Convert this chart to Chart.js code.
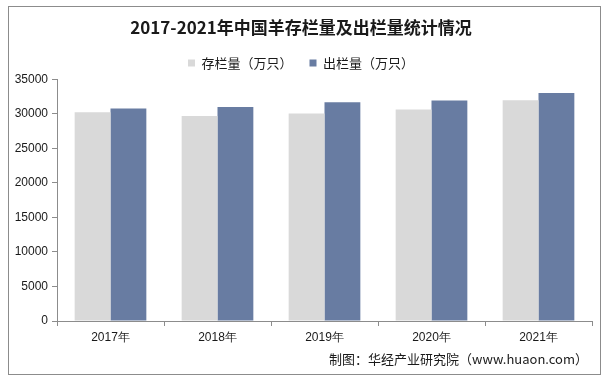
<!DOCTYPE html>
<html>
<head>
<meta charset="utf-8">
<script src="https://cdn.jsdelivr.net/npm/chart.js@4"></script>
<style>
    html, body { margin: 0; padding: 0; background: #fff; }
    #wrap { position: relative; width: 608px; height: 384px; }
    #frame { position: absolute; left: 8px; top: 6px; width: 591px; height: 367px; border: 1px solid #8c8c8c; pointer-events: none; }
    #source { position: absolute; right: 20px; top: 350px; font: 13px/18px "Noto Sans CJK SC", sans-serif; color: #1a1a1a; white-space: nowrap; }
    canvas { position: absolute; left: 0; top: 0; }
</style>
</head>
<body>
<div id="wrap">
    <canvas id="sheepChart" width="608" height="384"></canvas>
    <div id="frame"></div>
    <div id="source">制图：华经产业研究院（www.huaon.com）</div>
</div>
<script>
const years = ['2017年', '2018年', '2019年', '2020年', '2021年'];
const stockValues = [30231.7, 29713.5, 30072.1, 30654.8, 31969.3];
const slaughterValues = [30797.7, 31010.5, 31699.0, 31941.3, 33045.0];
const yTicks = [0, 5000, 10000, 15000, 20000, 25000, 30000, 35000];

const axisColor = '#8c8c8c';
const textColor = '#1a1a1a';

const ctx = document.getElementById('sheepChart').getContext('2d');
const sheepChart = new Chart(ctx, {
    type: 'bar',
    data: {
        labels: years,
        datasets: [{
            label: '存栏量（万只）',
            data: stockValues,
            backgroundColor: '#d9d9d9',
            borderWidth: 0
        }, {
            label: '出栏量（万只）',
            data: slaughterValues,
            backgroundColor: '#687ca2',
            borderWidth: 0
        }]
    },
    options: {
        responsive: false,
        animation: false,
        datasets: {
            bar: {
                categoryPercentage: 0.67,
                barPercentage: 1.0
            }
        },
        layout: {
            padding: { left: 10, right: 16, top: 17, bottom: 34 }
        },
        plugins: {
            tooltip: { enabled: false },
            title: {
                display: true,
                text: '2017-2021年中国羊存栏量及出栏量统计情况',
                color: textColor,
                font: { family: '"Noto Sans CJK SC", sans-serif', size: 17, weight: 'bold' },
                padding: { top: 0, bottom: 2 }
            },
            legend: {
                display: true,
                position: 'top',
                labels: {
                    boxWidth: 7,
                    boxHeight: 7,
                    color: textColor,
                    padding: 17,
                    font: { family: '"Noto Sans CJK SC", sans-serif', size: 13 }
                }
            }
        },
        scales: {
            x: {
                grid: {
                    display: true,
                    drawOnChartArea: false,
                    drawTicks: true,
                    tickLength: 5,
                    color: axisColor
                },
                border: { display: true, color: axisColor },
                ticks: {
                    color: textColor,
                    padding: 4,
                    font: { family: '"Liberation Sans", Arial, sans-serif', size: 12 }
                },
                afterFit: (scale) => { scale.height = 29; }
            },
            y: {
                min: 0,
                max: 35000,
                afterBuildTicks: (scale) => {
                    scale.ticks = yTicks.map(v => ({ value: v }));
                },
                grid: {
                    display: true,
                    drawOnChartArea: false,
                    drawTicks: true,
                    tickLength: 5,
                    color: axisColor
                },
                border: { display: true, color: axisColor },
                ticks: {
                    color: textColor,
                    padding: 4,
                    font: { family: '"Liberation Sans", Arial, sans-serif', size: 12 },
                    callback: (value) => String(value)
                },
                afterFit: (scale) => { scale.width = 47; }
            }
        }
    }
});
</script>
</body>
</html>
